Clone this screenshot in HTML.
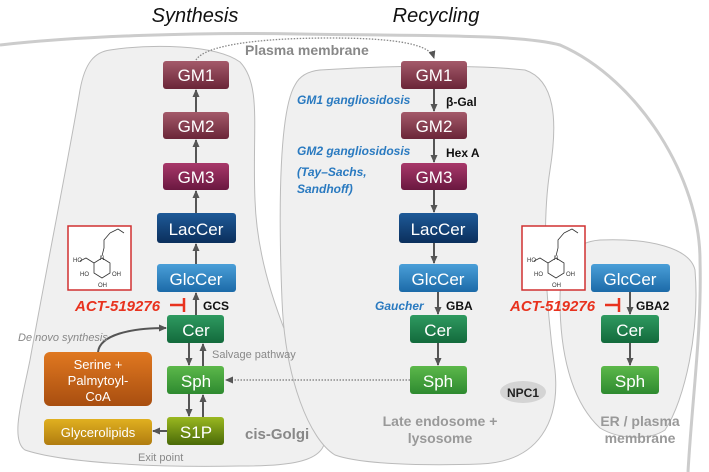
<!DOCTYPE html><html><head><style>body{margin:0;background:#fff}svg{display:block}
text{font-family:"Liberation Sans",sans-serif}</style></head><body>
<svg width="709" height="472" viewBox="0 0 709 472">
<defs>
<linearGradient id="gm" x1="0" y1="0" x2="0" y2="1"><stop offset="0" stop-color="#a45a6a"/><stop offset="1" stop-color="#6a2538"/></linearGradient>
<linearGradient id="gm3" x1="0" y1="0" x2="0" y2="1"><stop offset="0" stop-color="#a8386a"/><stop offset="1" stop-color="#6a1840"/></linearGradient>
<linearGradient id="lac" x1="0" y1="0" x2="0" y2="1"><stop offset="0" stop-color="#1e5a98"/><stop offset="1" stop-color="#0b2f5c"/></linearGradient>
<linearGradient id="glc" x1="0" y1="0" x2="0" y2="1"><stop offset="0" stop-color="#4a9fd8"/><stop offset="1" stop-color="#1c6aa8"/></linearGradient>
<linearGradient id="cer" x1="0" y1="0" x2="0" y2="1"><stop offset="0" stop-color="#2e9a60"/><stop offset="1" stop-color="#136a3c"/></linearGradient>
<linearGradient id="sph" x1="0" y1="0" x2="0" y2="1"><stop offset="0" stop-color="#5cb84a"/><stop offset="1" stop-color="#2e8a30"/></linearGradient>
<linearGradient id="s1p" x1="0" y1="0" x2="0" y2="1"><stop offset="0" stop-color="#9ab820"/><stop offset="1" stop-color="#4a6a08"/></linearGradient>
<linearGradient id="ser" x1="0" y1="0" x2="0" y2="1"><stop offset="0" stop-color="#e07820"/><stop offset="1" stop-color="#a84e10"/></linearGradient>
<linearGradient id="gly" x1="0" y1="0" x2="0" y2="1"><stop offset="0" stop-color="#e0b020"/><stop offset="1" stop-color="#b07c10"/></linearGradient>
<marker id="ah" markerUnits="userSpaceOnUse" markerWidth="8" markerHeight="8" refX="7" refY="4" orient="auto"><path d="M0,0.5 L8,4 L0,7.5z" fill="#555"/></marker>
</defs>
<path d="M0,45 C80,36 200,32 300,34 C420,36 520,34 560,45 C640,80 700,180 700,260 C702,330 692,400 688,472" fill="none" stroke="#ccc" stroke-width="3"/>
<path d="M110,50 C150,44 215,44 240,62 C262,85 252,130 255,200 C258,290 300,360 325,430 C330,460 300,466 240,466 C150,468 60,462 25,450 C10,440 22,400 30,360 C50,250 70,150 80,90 C85,62 95,52 110,50z" fill="#f0f0f0" stroke="#bbb" stroke-width="1"/>
<path d="M320,70 C380,66 470,64 525,70 C555,80 558,120 550,170 C542,220 545,300 555,370 C560,420 540,462 480,464 C420,466 360,464 335,455 C310,440 285,380 282,300 C278,200 280,110 295,85 C300,75 310,71 320,70z" fill="#f0f0f0" stroke="#bbb" stroke-width="1"/>
<path d="M600,240 C650,238 690,248 695,270 C700,330 685,400 665,430 C650,440 620,440 600,428 C570,400 560,350 560,300 C560,255 575,242 600,240z" fill="#f0f0f0" stroke="#bbb" stroke-width="1"/>
<text x="195" y="22" font-size="20" font-style="italic" text-anchor="middle" fill="#111">Synthesis</text>
<text x="436" y="22" font-size="20" font-style="italic" text-anchor="middle" fill="#111">Recycling</text>
<path d="M196,60 C205,45 260,38 330,38 C400,38 430,45 434,58" fill="none" stroke="#888" stroke-width="1.3" stroke-dasharray="1.5,1.5" marker-end="url(#ah)"/>
<text x="245" y="55" font-size="14" font-weight="bold" fill="#888">Plasma membrane</text>
<g stroke="#555" stroke-width="2" fill="none" marker-end="url(#ah)">
<line x1="196" y1="112" x2="196" y2="90"/><line x1="196" y1="163" x2="196" y2="140"/><line x1="196" y1="213" x2="196" y2="191"/>
<line x1="196" y1="264" x2="196" y2="244"/><line x1="196" y1="315" x2="196" y2="293"/>
<line x1="189" y1="343" x2="189" y2="365"/><line x1="203" y1="366" x2="203" y2="344"/>
<line x1="189" y1="394" x2="189" y2="416"/><line x1="203" y1="417" x2="203" y2="395"/>
<line x1="167" y1="431" x2="153" y2="431"/>
<path d="M98,352 C100,335 130,328 166,328"/>
<line x1="434" y1="89" x2="434" y2="111"/><line x1="434" y1="139" x2="434" y2="162"/><line x1="434" y1="190" x2="434" y2="212"/>
<line x1="434" y1="243" x2="434" y2="263"/><line x1="438" y1="292" x2="438" y2="314"/><line x1="438" y1="343" x2="438" y2="365"/>
<line x1="630" y1="292" x2="630" y2="314"/><line x1="630" y1="343" x2="630" y2="365"/>
</g>
<line x1="410" y1="380" x2="226" y2="380" stroke="#777" stroke-width="1.3" stroke-dasharray="1.5,1.5" marker-end="url(#ah)"/>
<g font-size="17" fill="#fff" text-anchor="middle">
<rect x="163" y="61" width="66" height="28" rx="3" fill="url(#gm)"/><text x="196" y="81">GM1</text>
<rect x="163" y="112" width="66" height="27" rx="3" fill="url(#gm)"/><text x="196" y="132">GM2</text>
<rect x="163" y="163" width="66" height="27" rx="3" fill="url(#gm3)"/><text x="196" y="183">GM3</text>
<rect x="157" y="213" width="79" height="30" rx="3" fill="url(#lac)"/><text x="196" y="235">LacCer</text>
<rect x="157" y="264" width="79" height="28" rx="3" fill="url(#glc)"/><text x="196" y="285">GlcCer</text>
<rect x="167" y="315" width="57" height="28" rx="3" fill="url(#cer)"/><text x="196" y="336">Cer</text>
<rect x="167" y="366" width="57" height="28" rx="3" fill="url(#sph)"/><text x="196" y="387">Sph</text>
<rect x="167" y="417" width="57" height="28" rx="3" fill="url(#s1p)"/><text x="196" y="438">S1P</text>
<rect x="401" y="61" width="66" height="28" rx="3" fill="url(#gm)"/><text x="434" y="81">GM1</text>
<rect x="401" y="112" width="66" height="27" rx="3" fill="url(#gm)"/><text x="434" y="132">GM2</text>
<rect x="401" y="163" width="66" height="27" rx="3" fill="url(#gm3)"/><text x="434" y="183">GM3</text>
<rect x="399" y="213" width="79" height="30" rx="3" fill="url(#lac)"/><text x="438" y="235">LacCer</text>
<rect x="399" y="264" width="79" height="28" rx="3" fill="url(#glc)"/><text x="438" y="285">GlcCer</text>
<rect x="410" y="315" width="57" height="28" rx="3" fill="url(#cer)"/><text x="438" y="336">Cer</text>
<rect x="410" y="366" width="57" height="28" rx="3" fill="url(#sph)"/><text x="438" y="387">Sph</text>
<rect x="591" y="264" width="79" height="28" rx="3" fill="url(#glc)"/><text x="630" y="285">GlcCer</text>
<rect x="601" y="315" width="58" height="28" rx="3" fill="url(#cer)"/><text x="630" y="336">Cer</text>
<rect x="601" y="366" width="58" height="28" rx="3" fill="url(#sph)"/><text x="630" y="387">Sph</text>
</g>
<g font-size="13" fill="#fff" text-anchor="middle">
<rect x="44" y="352" width="108" height="54" rx="6" fill="url(#ser)"/>
<text x="98" y="369">Serine +</text><text x="98" y="385">Palmytoyl-</text><text x="98" y="401">CoA</text>
<rect x="44" y="419" width="108" height="26" rx="4" fill="url(#gly)"/><text x="98" y="437">Glycerolipids</text>
</g>
<g font-size="11" fill="#888">
<text x="18" y="341" font-style="italic">De novo synthesis</text>
<text x="212" y="358">Salvage pathway</text>
<text x="138" y="461">Exit point</text>
</g>
<text x="245" y="439" font-size="15" font-weight="bold" fill="#888">cis-Golgi</text>
<g font-size="14" font-weight="bold" fill="#999" text-anchor="middle">
<text x="440" y="426">Late endosome +</text><text x="440" y="443">lysosome</text>
<text x="640" y="426">ER / plasma</text><text x="640" y="443">membrane</text>
</g>
<ellipse cx="523" cy="392" rx="23" ry="11" fill="#d4d4d4"/>
<text x="523" y="397" font-size="12" font-weight="bold" text-anchor="middle" fill="#222">NPC1</text>
<g font-size="12" font-weight="bold" font-style="italic" fill="#2a7ac0">
<text x="297" y="104">GM1 gangliosidosis</text>
<text x="297" y="155">GM2 gangliosidosis</text>
<text x="297" y="176">(Tay–Sachs,</text>
<text x="297" y="193">Sandhoff)</text>
<text x="375" y="310">Gaucher</text>
</g>
<g font-size="12" font-weight="bold" fill="#111">
<text x="446" y="106">β-Gal</text><text x="446" y="157">Hex A</text>
<text x="203" y="310">GCS</text><text x="446" y="310">GBA</text><text x="636" y="310">GBA2</text>
</g>
<g font-size="15" font-weight="bold" font-style="italic" fill="#e8321e">
<text x="75" y="311">ACT-519276</text><text x="510" y="311">ACT-519276</text>
</g>
<g stroke="#e8321e" stroke-width="2.5"><line x1="170" y1="305" x2="184" y2="305"/><line x1="184" y1="298" x2="184" y2="312"/>
<line x1="605" y1="305" x2="619" y2="305"/><line x1="619" y1="298" x2="619" y2="312"/></g>
<g id="mol">
<rect x="68" y="226" width="63" height="64" fill="#fff" stroke="#d03030" stroke-width="1.5"/>
<g stroke="#333" stroke-width="0.8" fill="none">
<path d="M110,233 L118,229 L124,233 M110,233 L104,240 L104,248 L102,256"/>
<path d="M102,258 L94,263 L94,273 L102,278 L110,273 L110,263 Z"/>
<path d="M94,263 L86,258 L80,261"/>
</g>
<g font-size="6" fill="#333"><text x="100" y="260">N</text><text x="73" y="262">HO</text><text x="80" y="276">HO</text><text x="112" y="276">OH</text><text x="98" y="287">OH</text></g>
</g>
<use href="#mol" transform="translate(454,0)"/>
</svg></body></html>
